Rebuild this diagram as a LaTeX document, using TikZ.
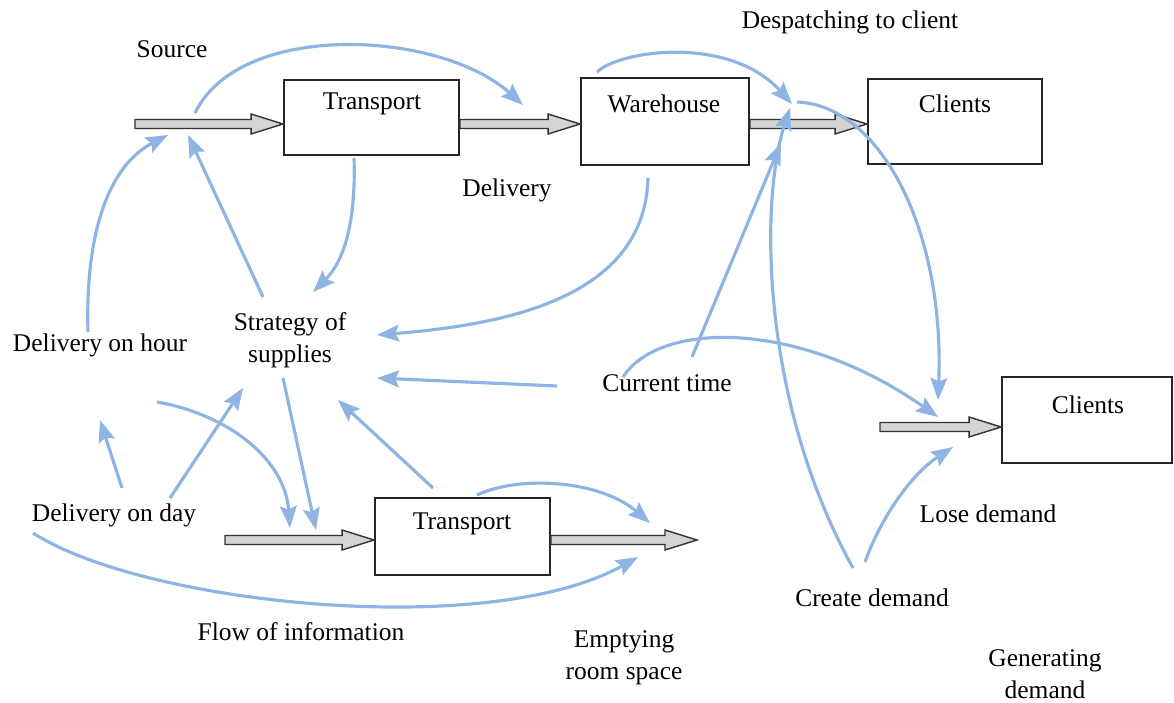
\documentclass[tikz,border=0pt]{standalone}
\usepackage{fontspec}
\setmainfont{Liberation Serif}
\usetikzlibrary{arrows.meta,calc}
\definecolor{infoblue}{RGB}{141,180,226}
\definecolor{flowgray}{RGB}{212,212,212}
\newcommand\flowarr[2]{%
  \filldraw[flow] ($(#1)+(0,-4.5)$) -- ($(#2)+(-32,-4.5)$) -- ($(#2)+(-32,-10)$) -- (#2)
    -- ($(#2)+(-32,10)$) -- ($(#2)+(-32,4.5)$) -- ($(#1)+(0,4.5)$) -- cycle;}
\begin{document}
\begin{tikzpicture}[x=0.02cm, y=-0.02cm,
  box/.style={draw=black!85, line width=1.1pt, inner sep=0pt},
  lbl/.style={font=\fontsize{14.5}{18}\selectfont, inner sep=0pt, align=center},
  flow/.style={fill=flowgray, draw=black!80, line width=0.8pt, line join=miter},
  info/.style={draw=infoblue, line width=1.8pt, -{Stealth[length=12.5pt,width=9.5pt,inset=2pt]}}]
\useasboundingbox (0,0) rectangle (1174,703);
% boxes
\node[box, minimum width=3.5cm, minimum height=1.5cm] (T) at (371.5,117.5) {};
\node[box, minimum width=3.36cm, minimum height=1.74cm] (W) at (665,121.5) {};
\node[box, minimum width=3.48cm, minimum height=1.7cm] (C1) at (955,121.5) {};
\node[box, minimum width=3.4cm, minimum height=1.72cm] (C2) at (1087,420) {};
\node[box, minimum width=3.5cm, minimum height=1.54cm] (T2) at (462.5,536.5) {};
\node[lbl] (tT) at (372,104) {Transport};
\node[lbl] (tW) at (664,104) {Warehouse};
\node[lbl] (tC1) at (955,104) {Clients};
\node[lbl] (tC2) at (1088,405) {Clients};
\node[lbl] (tT2) at (462,524) {Transport};
% labels
\node[lbl] (src) at (172,49) {Source};
\node[lbl] (desp) at (850,22) {Despatching to client};
\node[lbl] (deliv) at (507,190) {Delivery};
\node[lbl] (strat) at (290,340) {Strategy of\\supplies};
\node[lbl] (dhour) at (100,345) {Delivery on hour};
\node[lbl] (ctime) at (667,383) {Current time};
\node[lbl] (dday) at (114,515) {Delivery on day};
\node[lbl] (flowinfo) at (301,632) {Flow of information};
\node[lbl] (empty) at (624,658) {Emptying\\room space};
\node[lbl] (lose) at (988,514) {Lose demand};
\node[lbl] (create) at (872,598) {Create demand};
\node[lbl] (gen) at (1045,674) {Generating\\demand};
% flow coordinates
\coordinate (s1) at (135,124);
\coordinate (s4) at (880,427);
\coordinate (s5) at (225,540);
\coordinate (e6) at (697,540);
\flowarr{s1}{T.west|-s1}
\flowarr{T.east|-s1}{W.west|-s1}
\flowarr{W.east|-s1}{C1.west|-s1}
\flowarr{s4}{C2.west|-s4}
\flowarr{s5}{T2.west|-s5}
\flowarr{T2.east|-s5}{e6}
% connector end points
\coordinate (a1) at (195,113);   \coordinate (b1) at (523,105);
\coordinate (a2) at (597,72);    \coordinate (b2) at (792,104);
\coordinate (a3) at (797,102);   \coordinate (b3) at (938,400);
\coordinate (a4) at (692,357);   \coordinate (b4) at (781,143);
\coordinate (a5) at (853,568);   \coordinate (b5) at (790,108);
\coordinate (a6) at (354,158);   \coordinate (b6) at (313,292);
\coordinate (a7) at (648,178);   \coordinate (b7) at (377,335);
\coordinate (a8) at (263,297);   \coordinate (b8) at (188,135);
\coordinate (a9) at (88,332);    \coordinate (b9) at (168,135);
\coordinate (a10) at (557,386);  \coordinate (b10) at (377,378);
\coordinate (a11) at (283,378);  \coordinate (b11) at (316,530);
\coordinate (a12) at (157,402);  \coordinate (b12) at (290,528);
\coordinate (a13) at (122,488);  \coordinate (b13) at (100,420);
\coordinate (a14) at (170,498);  \coordinate (b14) at (243,388);
\coordinate (a15) at (433,488);  \coordinate (b15) at (338,400);
\coordinate (a16) at (477,495);  \coordinate (b16) at (650,523);
\coordinate (a17) at (33,533);   \coordinate (b17) at (638,557);
\coordinate (a18) at (623,377);  \coordinate (b18) at (938,417);
\coordinate (a19) at (865,562);  \coordinate (b19) at (953,447);
% information connectors
\draw[info] (a1) .. controls (240,20) and (440,30) .. (b1);
\draw[info] (a2) .. controls (620,50) and (730,35) .. (b2);
\draw[info] (a3) .. controls (880,105) and (945,230) .. (b3);
\draw[info] (a4) -- (b4);
\draw[info] (a5) .. controls (760,400) and (760,200) .. (b5);
\draw[info] (a6) .. controls (356,220) and (345,260) .. (b6);
\draw[info] (a7) .. controls (645,300) and (500,325) .. (b7);
\draw[info] (a8) -- (b8);
\draw[info] (a9) .. controls (85,230) and (110,165) .. (b9);
\draw[info] (a10) -- (b10);
\draw[info] (a11) -- (b11);
\draw[info] (a12) .. controls (230,415) and (285,460) .. (b12);
\draw[info] (a13) -- (b13);
\draw[info] (a14) -- (b14);
\draw[info] (a15) -- (b15);
\draw[info] (a16) .. controls (520,475) and (600,480) .. (b16);
\draw[info] (a17) .. controls (145,605) and (490,640) .. (b17);
\draw[info] (a18) .. controls (660,320) and (800,320) .. (b18);
\draw[info] (a19) .. controls (880,520) and (910,475) .. (b19);
\end{tikzpicture}
\end{document}
